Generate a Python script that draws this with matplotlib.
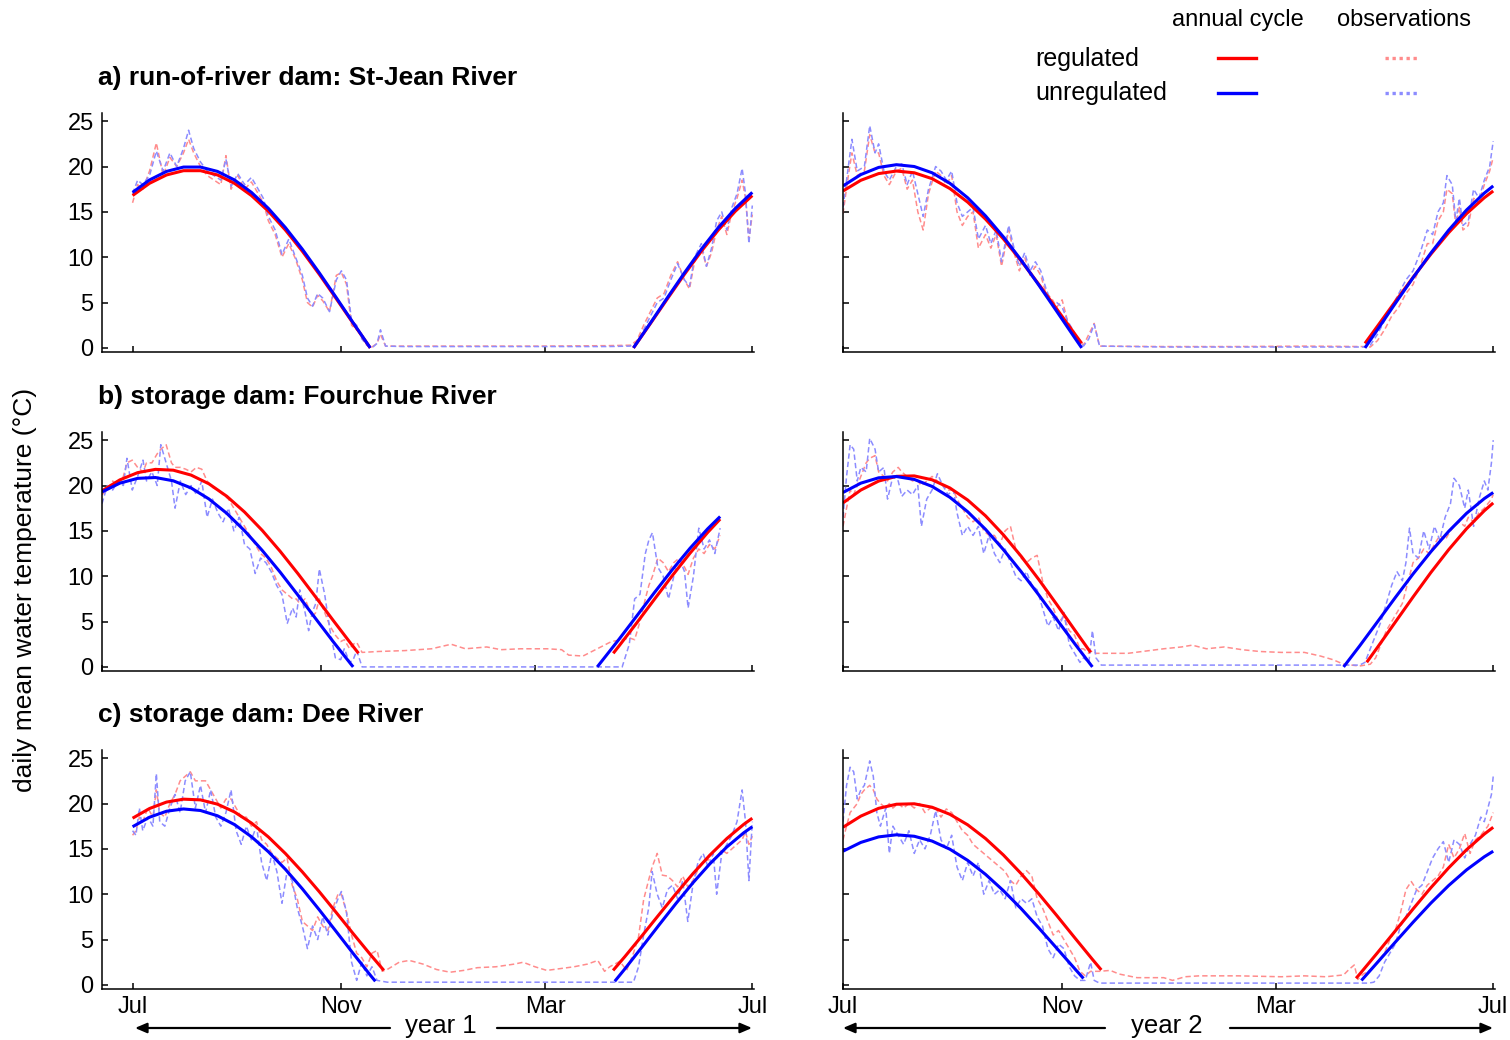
import numpy as np
import matplotlib.pyplot as plt
from matplotlib.lines import Line2D

plt.rcParams['font.family'] = ['Liberation Sans', 'DejaVu Sans']

nan = np.nan

# Eje x: días contados desde el 1 de julio
tick_days = [0, 123, 243, 365]
tick_labels = ['Jul', 'Nov', 'Mar', 'Jul']
y_ticks = [0, 5, 10, 15, 20, 25]

titulos = ['a) run-of-river dam: St-Jean River',
           'b) storage dam: Fourchue River',
           'c) storage dam: Dee River']

# ---------------- a) St-Jean, año 1 ----------------
obs_d_a1 = [0, 3, 6, 10, 14, 18, 22, 26, 30, 33, 36, 40, 44, 48, 52, 55, 58, 62, 66, 70,
            74, 77, 80, 84, 88, 92, 96, 100, 103, 106, 109, 112, 116, 120, 123, 126, 129, 132, 135, 138,
            141, 144, 146, 149, 160, 200, 240, 280, 293, 297, 301, 305, 309, 313, 317, 321, 325, 328, 331, 335,
            338, 341, 344, 347, 350, 353, 356, 359, 361, 363, 365]
obs_unreg_a1 = [17.0, 18.5, 18.0, 19.0, 21.7, 19.5, 21.5, 20.0, 22.0, 24.0, 22.0, 20.5, 19.5, 19.0, 18.5, 20.8, 17.8, 19.2, 18.0, 18.8,
                17.5, 16.5, 14.5, 13.0, 10.3, 12.0, 10.0, 8.0, 5.5, 4.6, 6.0, 5.5, 4.0, 7.5, 8.5, 7.5, 3.0, 2.5, 1.0, 0.3,
                0.0, 0.5, 2.0, 0.2, 0.15, 0.15, 0.15, 0.15, 0.2, 0.6, 2.0, 3.5, 5.0, 5.5, 7.5, 9.3, 7.5, 6.8, 10.0, 11.5,
                9.0, 11.0, 14.0, 15.0, 13.0, 15.5, 17.0, 19.8, 17.0, 11.5, 15.7]
obs_reg_a1 = [16.0, 18.0, 17.5, 19.5, 22.6, 19.0, 21.0, 20.0, 21.5, 23.0, 21.5, 20.0, 19.0, 18.5, 18.0, 21.2, 17.5, 19.0, 17.5, 18.3,
              17.0, 16.0, 14.0, 12.5, 10.0, 11.5, 9.8, 7.5, 5.0, 4.5, 5.8, 5.2, 4.0, 8.0, 8.3, 7.0, 2.5, 2.0, 1.5, 0.3,
              0.1, 0.5, 1.5, 0.2, 0.2, 0.2, 0.2, 0.25, 0.3, 0.8, 2.5, 4.0, 5.5, 6.0, 8.0, 9.5, 7.5, 6.5, 9.5, 11.0,
              9.0, 10.5, 13.0, 14.5, 12.5, 15.0, 16.5, 18.5, 16.5, 12.0, 14.7]
cyc_d_unreg_a1 = [0, 10, 20, 30, 40, 50, 60, 70, 80, 90, 100, 110, 120, 130, 140, nan,
                  295, 305, 315, 325, 335, 345, 355, 365]
cyc_unreg_a1 = [17.15, 18.52, 19.46, 19.94, 19.94, 19.46, 18.52, 17.15, 15.38, 13.27, 10.88, 8.27, 5.54, 2.75, 0.0, nan,
                0.0, 2.75, 5.54, 8.27, 10.88, 13.27, 15.38, 17.15]
cyc_d_reg_a1 = [0, 10, 20, 30, 40, 50, 60, 70, 80, 90, 100, 110, 120, 130, 140, nan,
                295, 305, 315, 325, 335, 345, 355, 365]
cyc_reg_a1 = [16.80, 18.15, 19.07, 19.54, 19.54, 19.07, 18.15, 16.80, 15.07, 13.00, 10.66, 8.11, 5.42, 2.69, 0.0, nan,
              0.0, 2.69, 5.42, 8.11, 10.66, 13.00, 15.07, 16.80]

# ---------------- a) St-Jean, año 2 ----------------
obs_d_a2 = [0, 3, 5, 8, 12, 15, 18, 20, 23, 26, 30, 33, 36, 39, 42, 45, 48, 52, 55, 58,
            61, 64, 67, 70, 73, 76, 80, 83, 86, 89, 93, 96, 99, 102, 105, 108, 111, 114, 117, 120,
            123, 126, 129, 132, 135, 138, 141, 144, 180, 220, 260, 292, 296, 300, 304, 308, 312, 316, 320, 324,
            328, 331, 334, 337, 339, 342, 344, 346, 348, 351, 354, 357, 360, 363, 365]
obs_unreg_a2 = [15.5, 20.0, 23.0, 19.5, 20.0, 24.5, 21.5, 22.5, 19.5, 18.5, 20.0, 20.3, 18.0, 19.5, 17.0, 14.5, 17.5, 20.0, 19.5, 18.5,
                19.5, 16.0, 14.5, 15.0, 15.5, 12.0, 13.5, 11.5, 13.0, 9.5, 13.5, 11.0, 9.0, 10.5, 8.5, 9.5, 8.5, 6.5, 5.0, 5.0,
                4.5, 3.0, 2.0, 1.0, 0.2, 1.0, 2.6, 0.2, 0.1, 0.1, 0.1, 0.1, 0.3, 1.5, 3.0, 4.5, 6.0, 7.5, 8.5, 10.5,
                13.0, 12.5, 15.0, 16.0, 19.0, 18.0, 14.0, 16.5, 13.5, 14.0, 17.5, 16.5, 18.5, 20.0, 22.8]
obs_reg_a2 = [14.8, 19.0, 21.5, 19.0, 19.5, 23.5, 21.5, 21.5, 19.0, 18.0, 19.5, 19.8, 17.5, 18.5, 15.0, 13.0, 17.0, 19.5, 19.0, 18.0,
              19.0, 15.0, 13.5, 14.5, 15.0, 11.0, 12.5, 11.0, 12.5, 9.0, 13.0, 10.5, 8.5, 10.0, 8.0, 9.0, 8.0, 6.0, 5.5, 4.5,
              5.3, 3.0, 1.5, 1.0, 0.3, 1.5, 2.7, 0.2, 0.15, 0.15, 0.2, 0.15, 0.1, 0.8, 2.0, 3.5, 4.5, 6.0, 7.0, 9.0,
              11.5, 11.5, 14.0, 15.0, 17.5, 17.0, 13.5, 15.5, 13.0, 13.5, 16.5, 16.0, 18.0, 19.5, 21.0]
cyc_d_unreg_a2 = [0, 10, 20, 30, 40, 50, 60, 70, 80, 90, 100, 110, 120, 130, 134, nan,
                  293, 300, 310, 320, 330, 340, 350, 360, 365]
cyc_unreg_a2 = [17.86, 19.11, 19.90, 20.20, 20.00, 19.31, 18.15, 16.55, 14.56, 12.25, 9.68, 6.90, 4.03, 1.14, 0.0, nan,
                0.0, 2.01, 4.90, 7.74, 10.46, 12.98, 15.20, 17.07, 17.86]
cyc_d_reg_a2 = [0, 10, 20, 30, 40, 50, 60, 70, 80, 90, 100, 110, 120, 130, 134, nan,
                293, 300, 310, 320, 330, 340, 350, 360, 365]
cyc_reg_a2 = [17.30, 18.48, 19.22, 19.50, 19.31, 18.66, 17.57, 16.07, 14.20, 12.03, 9.60, 6.99, 4.29, 1.57, 0.50, nan,
              0.50, 2.39, 5.11, 7.78, 10.34, 12.71, 14.80, 16.56, 17.30]

# ---------------- b) Fourchue, año 1 ----------------
obs_d_b1 = [0, 3, 6, 9, 12, 14, 17, 20, 23, 25, 28, 31, 33, 36, 39, 41, 44, 47, 50, 53,
            56, 59, 62, 65, 68, 71, 74, 77, 80, 83, 86, 89, 92, 95, 98, 101, 104, 107, 109, 111,
            114, 116, 118, 120, 122, 125, 128, 131, 134, 136, 139, 141, 143, 146, 155, 170, 185, 196, 204, 216,
            224, 235, 250, 258, 262, 270, 278, 286, 292, 296, 299, 302, 305, 307, 309, 312, 315, 318, 321, 324,
            327, 329, 332, 335, 338, 341, 344, 347]
obs_unreg_b1 = [18.0, 20.0, 19.5, 20.5, 20.0, 23.0, 19.5, 21.0, 22.8, 20.5, 21.5, 20.0, 24.5, 22.5, 20.5, 17.5, 20.5, 19.0, 20.0, 19.0,
                20.5, 16.5, 18.5, 17.0, 16.0, 17.5, 15.0, 16.5, 13.5, 13.0, 10.3, 12.0, 11.5, 10.5, 9.0, 8.0, 4.8, 6.5, 5.5, 8.5,
                6.0, 4.0, 6.0, 7.0, 10.8, 8.0, 4.0, 1.0, 0.8, 2.0, 0.5, 0.8, 1.8, 0.0, 0.0, 0.0, 0.0, 0.0, 0.0, 0.0,
                0.0, 0.0, 0.0, 0.0, 0.0, 0.0, 0.0, 0.0, 0.0, 2.5, 7.5, 8.0, 12.5, 14.0, 14.8, 11.0, 10.0, 7.5, 10.0, 12.0,
                10.5, 6.5, 10.0, 15.3, 13.0, 14.0, 12.5, 15.3]
obs_reg_b1 = [19.0, 19.5, 20.5, 20.0, 21.0, 22.5, 22.8, 22.0, 21.5, 22.5, 22.5, 23.5, 24.0, 24.5, 22.5, 22.0, 22.0, 21.8, 21.5, 22.0,
              21.8, 20.5, 19.8, 19.5, 19.0, 18.5, 17.5, 16.5, 15.5, 14.5, 13.5, 12.5, 12.0, 11.0, 9.5, 8.5, 8.0, 7.5, 7.5, 7.0,
              7.5, 6.5, 5.5, 6.0, 7.5, 6.0, 4.5, 3.5, 2.8, 3.0, 2.0, 2.5, 2.7, 1.6, 1.7, 1.8, 2.0, 2.5, 2.0, 2.2,
              1.9, 2.0, 2.0, 1.9, 1.3, 1.2, 2.0, 2.8, 3.0, 3.2, 3.0, 5.0, 7.5, 9.0, 10.0, 12.0, 11.5, 10.5, 11.5, 12.0,
              11.0, 10.2, 12.0, 13.0, 12.5, 13.5, 13.0, 14.5]
cyc_d_unreg_b1 = [0, 10, 20, 30, 40, 50, 60, 70, 80, 90, 100, 110, 120, 130, 140, 141, nan,
                  278, 290, 300, 310, 320, 330, 340, 347]
cyc_unreg_b1 = [19.29, 20.26, 20.79, 20.88, 20.52, 19.73, 18.52, 16.94, 15.02, 12.83, 10.45, 7.91, 5.31, 2.73, 0.24, 0.0, nan,
                0.0, 2.99, 5.57, 8.17, 10.69, 13.06, 15.23, 16.58]
cyc_d_reg_b1 = [0, 10, 20, 30, 40, 50, 60, 70, 80, 90, 100, 110, 120, 130, 140, 144, nan,
                287, 290, 300, 310, 320, 330, 340, 347]
cyc_reg_b1 = [19.41, 20.62, 21.42, 21.78, 21.69, 21.15, 20.19, 18.82, 17.08, 15.04, 12.75, 10.28, 7.69, 5.07, 2.50, 1.50, nan,
              1.50, 2.25, 4.81, 7.43, 10.03, 12.52, 14.83, 16.30]

# ---------------- b) Fourchue, año 2 ----------------
obs_d_b2 = [0, 2, 4, 6, 8, 10, 13, 15, 18, 20, 23, 25, 28, 31, 33, 36, 39, 42, 44, 47,
            50, 53, 56, 59, 62, 64, 67, 70, 73, 76, 79, 82, 85, 88, 91, 94, 97, 100, 103, 106,
            109, 112, 115, 118, 121, 124, 127, 130, 133, 135, 138, 140, 142, 145, 160, 180, 190, 196, 204, 214,
            224, 234, 246, 259, 268, 275, 281, 290, 293, 296, 299, 302, 305, 308, 311, 314, 316, 318, 320, 323,
            326, 329, 332, 335, 338, 341, 343, 346, 349, 351, 354, 357, 360, 362, 364, 365]
obs_unreg_b2 = [16.5, 21.0, 24.5, 24.0, 20.5, 22.0, 21.5, 25.2, 24.0, 21.5, 22.0, 18.5, 21.0, 20.5, 18.8, 19.5, 19.0, 20.0, 15.5, 18.5,
                19.5, 21.3, 20.0, 19.0, 19.5, 17.0, 14.5, 15.5, 14.5, 15.5, 12.5, 14.5, 12.5, 11.5, 13.0, 11.5, 10.0, 9.5, 10.5, 9.0,
                8.5, 6.5, 4.5, 5.5, 4.0, 6.0, 2.5, 1.5, 0.5, 1.0, 0.5, 4.0, 1.0, 0.2, 0.2, 0.2, 0.2, 0.2, 0.2, 0.2,
                0.2, 0.2, 0.2, 0.2, 0.2, 0.2, 0.2, 0.2, 0.5, 2.0, 3.5, 5.0, 7.0, 9.0, 10.5, 9.5, 11.5, 15.3, 12.5, 12.0,
                15.0, 13.0, 15.5, 14.0, 16.5, 18.0, 20.8, 20.0, 17.5, 19.5, 15.5, 18.5, 20.5, 19.5, 22.5, 25.0]
obs_reg_b2 = [15.5, 17.5, 19.5, 19.0, 20.0, 21.0, 22.5, 23.0, 23.3, 21.5, 21.0, 20.5, 21.5, 22.0, 21.5, 21.0, 20.5, 20.5, 20.0, 20.5,
              21.0, 20.5, 20.0, 19.5, 19.5, 18.5, 17.5, 16.5, 16.0, 16.5, 15.0, 14.5, 14.5, 13.5, 15.0, 15.5, 13.0, 12.0, 11.5, 12.0,
              12.3, 9.5, 7.5, 6.5, 5.0, 5.5, 4.0, 3.5, 2.0, 2.0, 1.5, 1.8, 1.5, 1.5, 1.5, 2.0, 2.2, 2.4, 2.0, 2.2,
              1.9, 1.7, 1.6, 1.6, 1.2, 0.8, 0.3, 0.1, 0.2, 0.3, 1.0, 2.5, 4.0, 5.0, 6.0, 7.0, 8.5, 10.0, 11.5, 12.0,
              13.0, 12.5, 13.5, 14.5, 14.0, 15.0, 15.5, 16.0, 15.5, 16.5, 16.0, 17.0, 17.5, 18.0, 18.5, 19.0]
cyc_d_unreg_b2 = [0, 10, 20, 30, 40, 50, 60, 70, 80, 90, 100, 110, 120, 130, 140, nan,
                  281, 290, 300, 310, 320, 330, 340, 350, 360, 365]
cyc_unreg_b2 = [19.23, 20.26, 20.85, 20.99, 20.67, 19.90, 18.70, 17.11, 15.17, 12.94, 10.50, 7.91, 5.24, 2.58, 0.0, nan,
                0.0, 2.31, 4.97, 7.64, 10.25, 12.70, 14.95, 16.93, 18.56, 19.23]
cyc_d_reg_b2 = [0, 10, 20, 30, 40, 50, 60, 70, 80, 90, 100, 110, 120, 130, 139, nan,
                294, 300, 310, 320, 330, 340, 350, 360, 365]
cyc_reg_b2 = [18.08, 19.50, 20.49, 21.01, 21.06, 20.63, 19.73, 18.40, 16.66, 14.57, 12.20, 9.61, 6.88, 4.09, 1.60, nan,
              0.51, 2.15, 4.93, 7.71, 10.41, 12.93, 15.23, 17.22, 18.08]

# ---------------- c) Dee, año 1 ----------------
obs_d_c1 = [0, 2, 4, 6, 9, 12, 14, 16, 19, 22, 25, 28, 31, 34, 37, 40, 43, 46, 49, 52,
            55, 58, 61, 64, 67, 70, 73, 76, 79, 82, 85, 88, 91, 94, 97, 100, 103, 106, 109, 112,
            115, 118, 121, 123, 126, 129, 132, 135, 138, 141, 144, 147, 150, 157, 163, 171, 179, 187, 195, 203,
            214, 225, 230, 237, 244, 252, 260, 268, 274, 278, 281, 287, 291, 295, 298, 301, 304, 306, 309, 312,
            315, 318, 321, 324, 327, 330, 333, 336, 339, 342, 344, 347, 350, 353, 356, 359, 361, 363, 365]
obs_unreg_c1 = [17.0, 16.5, 19.5, 17.0, 18.5, 17.5, 23.3, 18.0, 17.5, 19.5, 21.0, 19.0, 22.5, 23.5, 19.5, 22.0, 19.0, 21.5, 18.5, 17.5,
                19.0, 21.5, 17.0, 15.5, 17.5, 16.0, 17.5, 13.5, 11.5, 14.5, 12.5, 9.0, 12.5, 11.5, 8.5, 6.5, 4.0, 6.5, 5.0, 7.5,
                5.5, 8.0, 9.5, 10.3, 8.0, 2.5, 0.5, 2.5, 1.0, 2.0, 0.5, 0.4, 0.3, 0.3, 0.3, 0.3, 0.3, 0.3, 0.3, 0.3,
                0.3, 0.3, 0.3, 0.3, 0.3, 0.3, 0.3, 0.3, 0.3, 0.3, 0.3, 0.3, 0.3, 0.3, 2.0, 5.5, 8.5, 12.5, 10.0, 8.5,
                10.5, 11.0, 9.5, 11.5, 7.0, 11.0, 13.5, 14.5, 13.0, 14.5, 10.0, 14.5, 15.5, 16.5, 18.0, 21.5, 18.0, 11.5, 18.0]
obs_reg_c1 = [16.5, 17.0, 18.5, 18.0, 19.5, 18.5, 21.5, 19.0, 18.5, 20.0, 21.0, 22.5, 23.0, 23.5, 22.5, 22.5, 22.5, 21.5, 20.5, 19.5,
              20.5, 20.5, 19.5, 18.5, 18.5, 17.5, 18.0, 16.0, 15.5, 14.5, 14.0, 13.5, 14.0, 11.0, 9.5, 7.0, 6.5, 6.0, 7.5, 6.5,
              6.0, 8.5, 10.0, 10.0, 8.0, 5.5, 3.5, 3.0, 2.0, 3.5, 3.8, 1.5, 1.7, 2.5, 2.7, 2.3, 1.7, 1.4, 1.6, 1.9,
              2.0, 2.3, 2.5, 2.0, 1.6, 1.8, 2.0, 2.3, 2.7, 1.5, 2.0, 2.6, 1.6, 3.5, 5.3, 9.4, 11.6, 13.0, 14.5, 12.1,
              12.0, 11.5, 10.8, 12.0, 10.8, 11.5, 12.7, 13.5, 13.8, 13.8, 14.0, 14.9, 14.5, 15.0, 15.5, 16.0, 16.9, 15.5, 16.4]
cyc_d_reg_c1 = [0, 10, 20, 30, 40, 50, 60, 70, 80, 90, 100, 110, 120, 130, 140, 148, nan,
                283, 290, 300, 310, 320, 330, 340, 350, 360, 365]
cyc_reg_c1 = [18.38, 19.45, 20.16, 20.48, 20.40, 19.93, 19.07, 17.85, 16.31, 14.49, 12.46, 10.27, 7.97, 5.64, 3.36, 1.60, nan,
              1.60, 3.13, 5.41, 7.74, 10.04, 12.26, 14.31, 16.14, 17.71, 18.38]
cyc_d_unreg_c1 = [0, 10, 20, 30, 40, 50, 60, 70, 80, 90, 100, 110, 120, 130, 140, 143, nan,
                  284, 290, 300, 310, 320, 330, 340, 350, 360, 365]
cyc_unreg_c1 = [17.44, 18.49, 19.15, 19.40, 19.23, 18.65, 17.68, 16.34, 14.68, 12.75, 10.59, 8.27, 5.87, 3.45, 1.08, 0.40, nan,
                0.40, 1.78, 4.17, 6.59, 8.97, 11.25, 13.35, 15.21, 16.78, 17.44]

# ---------------- c) Dee, año 2 ----------------
obs_d_c2 = [0, 2, 4, 6, 8, 10, 12, 15, 17, 19, 21, 24, 26, 28, 31, 34, 37, 40, 43, 46,
            49, 52, 55, 58, 61, 64, 67, 70, 73, 76, 79, 82, 85, 88, 91, 94, 97, 100, 103, 106,
            109, 112, 115, 118, 121, 124, 127, 130, 133, 136, 139, 141, 144, 150, 155, 165, 180, 185, 192, 200,
            222, 246, 259, 271, 281, 284, 287, 289, 292, 295, 298, 301, 304, 307, 310, 313, 316, 319, 322, 325,
            328, 331, 334, 337, 340, 343, 346, 349, 352, 355, 358, 360, 362, 364, 365]
obs_unreg_c2 = [18.0, 22.0, 24.0, 23.5, 20.5, 21.5, 22.0, 24.7, 23.0, 19.0, 17.5, 19.5, 14.5, 17.5, 16.5, 15.5, 17.0, 14.5, 16.0, 15.0,
                16.5, 19.2, 16.0, 15.0, 16.5, 13.0, 11.5, 13.5, 12.0, 13.5, 10.0, 11.5, 10.0, 10.5, 9.5, 11.5, 8.5, 9.5, 9.0, 9.5,
                7.5, 6.5, 4.0, 3.0, 4.5, 4.0, 2.0, 1.0, 0.5, 0.5, 2.5, 0.5, 0.2, 0.2, 0.2, 0.2, 0.2, 0.2, 0.2, 0.2,
                0.2, 0.2, 0.2, 0.2, 0.2, 0.2, 0.2, 0.2, 0.2, 0.2, 0.3, 1.0, 2.5, 3.5, 4.5, 6.5, 7.5, 9.0, 10.5, 11.0,
                12.5, 14.0, 15.0, 15.8, 13.5, 16.0, 15.5, 14.0, 15.5, 16.5, 18.5, 18.0, 19.5, 21.0, 23.0]
obs_reg_c2 = [16.0, 17.5, 19.0, 19.5, 20.0, 21.0, 21.5, 22.0, 21.5, 20.5, 20.0, 19.5, 20.0, 19.5, 20.0, 19.5, 20.0, 19.5, 20.0, 19.0,
              19.5, 19.5, 18.5, 19.4, 19.0, 18.0, 17.0, 16.5, 15.5, 15.0, 14.5, 14.0, 13.5, 13.0, 12.5, 11.5, 11.0, 12.0, 12.6, 12.0,
              9.5, 8.5, 7.0, 5.5, 6.0, 5.0, 4.0, 3.0, 1.5, 1.0, 1.5, 1.5, 1.5, 1.6, 1.2, 0.8, 0.8, 0.5, 0.9, 1.0,
              1.0, 0.9, 1.0, 0.9, 1.1, 1.7, 2.2, 0.6, 1.2, 1.5, 2.0, 2.8, 3.5, 5.0, 6.0, 8.0, 10.5, 11.4, 10.5, 10.0,
              11.0, 11.5, 12.0, 13.0, 15.5, 14.0, 15.0, 16.7, 14.5, 16.0, 16.5, 17.0, 17.5, 18.5, 19.0]
cyc_d_reg_c2 = [0, 10, 20, 30, 40, 50, 60, 70, 80, 90, 100, 110, 120, 130, 140, 145, nan,
                288, 290, 300, 310, 320, 330, 340, 350, 360, 365]
cyc_reg_c2 = [17.38, 18.61, 19.47, 19.92, 19.97, 19.59, 18.81, 17.65, 16.14, 14.33, 12.27, 10.02, 7.65, 5.22, 2.82, 1.65, nan,
              0.73, 1.18, 3.54, 5.95, 8.37, 10.72, 12.91, 14.90, 16.63, 17.38]
cyc_d_unreg_c2 = [0, 10, 20, 30, 40, 50, 60, 70, 80, 90, 100, 110, 120, 130, 135, nan,
                  291, 300, 310, 320, 330, 340, 350, 360, 365]
cyc_unreg_c2 = [14.74, 15.71, 16.32, 16.55, 16.39, 15.86, 14.96, 13.73, 12.19, 10.40, 8.41, 6.26, 4.04, 1.81, 0.71, nan,
                0.49, 2.48, 4.71, 6.91, 9.02, 10.96, 12.68, 14.13, 14.74]

# Colores
c_reg = '#ff0000'
c_unreg = '#0000ff'
c_obs_reg = '#ff8c8c'
c_obs_unreg = '#8c8cff'
guiones = (0, (3.5, 2.0))

W, H = 1510, 1040
fig = plt.figure(figsize=(W / 100, H / 100), dpi=100)

# posiciones en píxeles: izquierda de cada columna y base de cada fila
col_x = [102, 843]
fila_base = [352, 671, 989]
ancho, alto = 652, 239

paneles = [
    (obs_d_a1, obs_reg_a1, obs_unreg_a1, cyc_d_reg_a1, cyc_reg_a1, cyc_d_unreg_a1, cyc_unreg_a1, (-18, 366)),
    (obs_d_a2, obs_reg_a2, obs_unreg_a2, cyc_d_reg_a2, cyc_reg_a2, cyc_d_unreg_a2, cyc_unreg_a2, (0, 366)),
    (obs_d_b1, obs_reg_b1, obs_unreg_b1, cyc_d_reg_b1, cyc_reg_b1, cyc_d_unreg_b1, cyc_unreg_b1, (0, 366)),
    (obs_d_b2, obs_reg_b2, obs_unreg_b2, cyc_d_reg_b2, cyc_reg_b2, cyc_d_unreg_b2, cyc_unreg_b2, (0, 366)),
    (obs_d_c1, obs_reg_c1, obs_unreg_c1, cyc_d_reg_c1, cyc_reg_c1, cyc_d_unreg_c1, cyc_unreg_c1, (-18, 366)),
    (obs_d_c2, obs_reg_c2, obs_unreg_c2, cyc_d_reg_c2, cyc_reg_c2, cyc_d_unreg_c2, cyc_unreg_c2, (0, 366)),
]

for i, (od, oreg, ounreg, crd, creg, cud, cunreg, xl) in enumerate(paneles):
    fila, col = i // 2, i % 2
    ax = fig.add_axes([col_x[col] / W, 1 - fila_base[fila] / H, ancho / W, alto / H])
    ax.plot(od, oreg, color=c_obs_reg, lw=1.1, ls=guiones)
    ax.plot(od, ounreg, color=c_obs_unreg, lw=1.1, ls=guiones)
    ax.plot(crd, creg, color=c_reg, lw=2.2, solid_capstyle='butt')
    ax.plot(cud, cunreg, color=c_unreg, lw=2.2, solid_capstyle='butt')

    ax.set_xlim(*xl)
    ax.set_ylim(-0.45, 25.9)
    ax.set_xticks(tick_days)
    ax.set_yticks(y_ticks)
    if fila == 2:
        ax.set_xticklabels(tick_labels)
    else:
        ax.set_xticklabels([])
    if col == 1:
        ax.set_yticklabels([])
    for lado in ['top', 'right']:
        ax.spines[lado].set_visible(False)
    for lado in ['left', 'bottom']:
        ax.spines[lado].set_linewidth(1.1)
    ax.tick_params(axis='both', direction='in', length=4, width=1.1, labelsize=17)
    ax.tick_params(axis='y', pad=6)
    ax.tick_params(axis='x', pad=5)

# Títulos de las filas
for fila, texto in enumerate(titulos):
    y_pix = [78, 397, 715][fila]
    fig.text(98 / W, 1 - y_pix / H, texto, fontsize=19, fontweight='bold', va='center', ha='left')

fig.text(25 / W, 1 - 590 / H, 'daily mean water temperature (°C)', rotation=90,
         fontsize=19, va='center', ha='center')

# Leyenda manual
fig.text(1238 / W, 1 - 20 / H, 'annual cycle', fontsize=17, ha='center', va='center')
fig.text(1404 / W, 1 - 20 / H, 'observations', fontsize=17, ha='center', va='center')
fig.text(1035 / W, 1 - 59 / H, 'regulated', fontsize=18, ha='left', va='center')
fig.text(1035 / W, 1 - 93 / H, 'unregulated', fontsize=18, ha='left', va='center')
for y_pix, c_lin, c_obs in [(58, c_reg, c_obs_reg), (93, c_unreg, c_obs_unreg)]:
    yy = 1 - y_pix / H
    fig.add_artist(Line2D([1218 / W, 1256 / W], [yy, yy], color=c_lin, lw=2.4,
                          transform=fig.transFigure))
    fig.add_artist(Line2D([1385 / W, 1420 / W], [yy, yy], color=c_obs, lw=2.4, ls=(0, (1, 1.1)),
                          transform=fig.transFigure))

# Flechas de año
flecha = dict(arrowstyle='-|>,head_length=0.7,head_width=0.3', color='black', lw=1.6, shrinkA=0, shrinkB=0)
for texto, xc, x_izq, x_der, x_fin_izq, x_fin_der in [('year 1', 441, 390, 497, 135, 752),
                                                      ('year 2', 1167, 1105, 1230, 843, 1493)]:
    fig.text(xc / W, 1 - 1026 / H, texto, fontsize=18.5, ha='center', va='center')
    fig.axes[0].annotate('', xy=(x_fin_izq, H - 1028), xytext=(x_izq, H - 1028),
                         xycoords='figure pixels', textcoords='figure pixels', arrowprops=flecha)
    fig.axes[0].annotate('', xy=(x_fin_der, H - 1028), xytext=(x_der, H - 1028),
                         xycoords='figure pixels', textcoords='figure pixels', arrowprops=flecha)

fig.savefig('out.png', dpi=100)
